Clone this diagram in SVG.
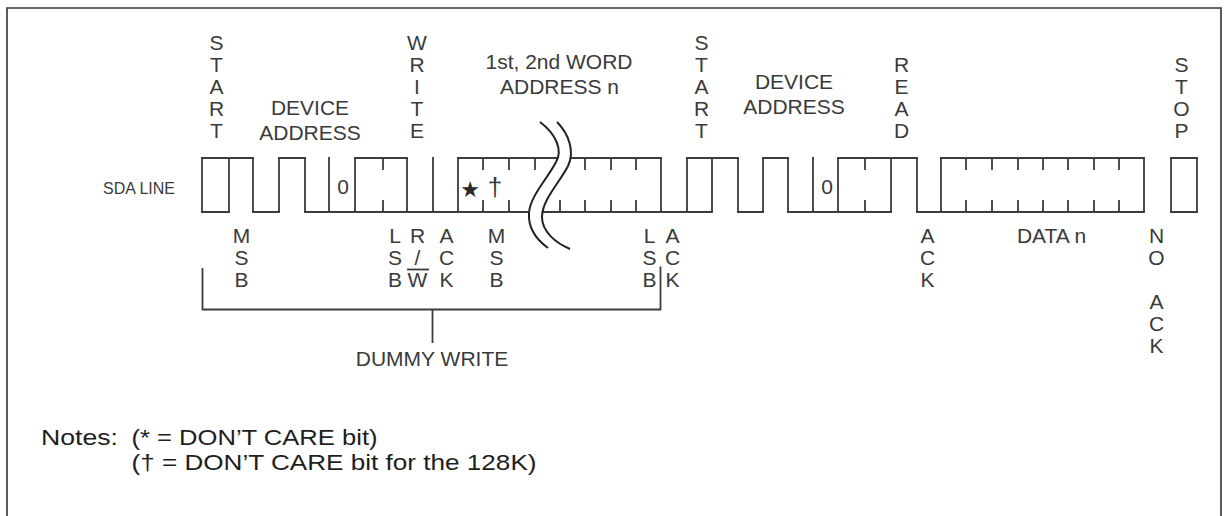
<svg xmlns="http://www.w3.org/2000/svg" width="1229" height="516" viewBox="0 0 1229 516">
<style>
.ln{stroke:#3c3c3c;stroke-width:1.8;fill:none;stroke-linecap:square}
.tk{stroke:#3c3c3c;stroke-width:1.8;fill:none}
.t{font-family:"Liberation Sans",Arial,sans-serif;font-size:21px;fill:#3a3a3a}
.c{text-anchor:middle}
.n{font-family:"Liberation Sans",Arial,sans-serif;font-size:22px;fill:#1e1e1e}
</style>
<rect width="1229" height="516" fill="#fff"/>
<path d="M7,520 V8 H1221 V520" stroke="#333" stroke-width="1.6" fill="none"/>

<text class="t" x="103" y="194" style="font-size:16px">SDA LINE</text>

<g id="waveform">
<path class="ln" d="M202,158H253M279,158H305M355,158H407M458,158H661M687,158H738M763,158H788M838,158H917M941,158H1144M1171,158H1197"/>
<path class="ln" d="M202,212H229M253,212H279M305,212H712M738,212H763M788,212H891M917,212H1144M1171,212H1197"/>
<path class="ln" d="M202,158V212M229,158V212M253,158V212M279,158V212M305,158V212M329,158V212M355,158V212M407,158V212M433,158V212M458,158V212M661,158V212M687,158V212M712,158V212M738,158V212M763,158V212M788,158V212M813,158V212M838,158V212M891,158V212M917,158V212M941,158V212M1144,158V212M1171,158V212M1197,158V212"/>
<path class="tk" d="M383,158V170M383,200V212M483,158V170M483,200V212M509,158V170M509,200V212M535,158V170M535,200V212M560,158V170M560,200V212M585,158V170M585,200V212M611,158V170M611,200V212M636,158V170M636,200V212M865,158V170M865,200V212M966,158V170M966,200V212M992,158V170M992,200V212M1018,158V170M1018,200V212M1043,158V170M1043,200V212M1068,158V170M1068,200V212M1094,158V170M1094,200V212M1119,158V170M1119,200V212"/>
<text class="t c" x="343" y="194">0</text>
<text class="t c" x="827" y="194">0</text>
<text x="470" y="197" text-anchor="middle" font-family="DejaVu Sans,sans-serif" font-size="22" fill="#2a2a2a">★</text>
<text class="t c" x="495" y="196" style="font-size:26px">†</text>
<path d="M540,122 C556,134 563,150 556,162 C548,178 530,196 529,213 C528,228 537,240 548,248 L570,249 C556,243 542,232 542,217 C542,200 560,182 568,166 C575,152 569,134 557,122 Z" fill="#fff" stroke="none"/>
<path d="M540,122 C556,134 563,150 556,162 C548,178 530,196 529,213 C528,228 537,240 548,248" stroke="#222" stroke-width="2" fill="none"/>
<path d="M557,122 C569,134 575,152 568,166 C560,182 542,200 542,217 C542,232 556,243 570,249" stroke="#222" stroke-width="2" fill="none"/>
</g>

<g id="top-labels">
<g id="start1"><text class="t c" x="216.5" y="50">S</text><text class="t c" x="216.5" y="72">T</text><text class="t c" x="216.5" y="94">A</text><text class="t c" x="216.5" y="116">R</text><text class="t c" x="216.5" y="138">T</text></g>
<g id="devaddr1"><text class="t c" x="310" y="115">DEVICE</text><text class="t c" x="310" y="140">ADDRESS</text></g>
<g id="write"><text class="t c" x="417" y="50">W</text><text class="t c" x="417" y="72">R</text><text class="t c" x="417" y="94">I</text><text class="t c" x="417" y="116">T</text><text class="t c" x="417" y="138">E</text></g>
<g id="wordaddr"><text class="t c" x="559" y="69">1st, 2nd WORD</text><text class="t c" x="559.5" y="94">ADDRESS n</text></g>
<g id="start2"><text class="t c" x="701.5" y="50">S</text><text class="t c" x="701.5" y="72">T</text><text class="t c" x="701.5" y="94">A</text><text class="t c" x="701.5" y="116">R</text><text class="t c" x="701.5" y="138">T</text></g>
<g id="devaddr2"><text class="t c" x="794" y="88.5">DEVICE</text><text class="t c" x="794" y="113.5">ADDRESS</text></g>
<g id="read"><text class="t c" x="901.5" y="72">R</text><text class="t c" x="901.5" y="94">E</text><text class="t c" x="901.5" y="116">A</text><text class="t c" x="901.5" y="138">D</text></g>
<g id="stop"><text class="t c" x="1181.5" y="72">S</text><text class="t c" x="1181.5" y="94">T</text><text class="t c" x="1181.5" y="116">O</text><text class="t c" x="1181.5" y="138">P</text></g>
</g>

<g id="bottom-labels">
<g id="msb1"><text class="t c" x="241.5" y="243">M</text><text class="t c" x="241.5" y="265">S</text><text class="t c" x="241.5" y="287">B</text></g>
<g id="lsb1"><text class="t c" x="395" y="243">L</text><text class="t c" x="395" y="265">S</text><text class="t c" x="395" y="287">B</text></g>
<g id="rw"><text class="t c" x="417.5" y="243">R</text><text class="t c" x="417.5" y="265">/</text><text class="t c" x="417.5" y="287">W</text><path d="M407,269.5H429" stroke="#3a3a3a" stroke-width="1.8"/></g>
<g id="ack1"><text class="t c" x="446.5" y="243">A</text><text class="t c" x="446.5" y="265">C</text><text class="t c" x="446.5" y="287">K</text></g>
<g id="msb2"><text class="t c" x="496.5" y="243">M</text><text class="t c" x="496.5" y="265">S</text><text class="t c" x="496.5" y="287">B</text></g>
<g id="lsb2"><text class="t c" x="649.5" y="243">L</text><text class="t c" x="649.5" y="265">S</text><text class="t c" x="649.5" y="287">B</text></g>
<g id="ack2"><text class="t c" x="672.5" y="243">A</text><text class="t c" x="672.5" y="265">C</text><text class="t c" x="672.5" y="287">K</text></g>
<g id="ack3"><text class="t c" x="927.5" y="243">A</text><text class="t c" x="927.5" y="265">C</text><text class="t c" x="927.5" y="287">K</text></g>
<g id="datan"><text class="t c" x="1051.5" y="243">DATA n</text></g>
<g id="noack"><text class="t c" x="1156.5" y="243">N</text><text class="t c" x="1156.5" y="265">O</text><text class="t c" x="1156.5" y="309">A</text><text class="t c" x="1156.5" y="331">C</text><text class="t c" x="1156.5" y="353">K</text></g>
</g>

<g id="connectors">
<path d="M202.5,268V309.5H660.5V266.5M432.5,309.5V343" stroke="#3c3c3c" stroke-width="1.8" fill="none"/>
</g>
<g id="dummy"><text class="t c" x="432" y="366">DUMMY WRITE</text></g>

<g id="notes">
<text class="n" x="41" y="445" textLength="77" lengthAdjust="spacingAndGlyphs">Notes:</text>
<text class="n" x="131.5" y="445" textLength="246" lengthAdjust="spacingAndGlyphs">(* = DON’T CARE bit)</text>
<text class="n" x="131.5" y="470" textLength="405" lengthAdjust="spacingAndGlyphs">(† = DON’T CARE bit for the 128K)</text>
</g>
</svg>
